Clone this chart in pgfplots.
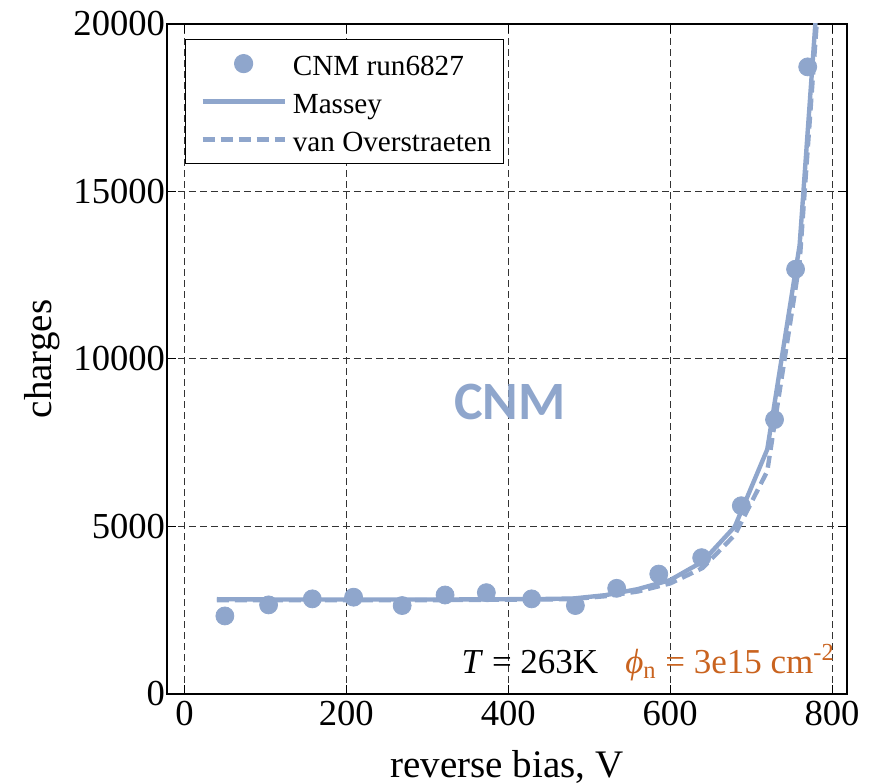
\documentclass[border=0pt]{standalone}
\usepackage{pgfplots}
\pgfplotsset{compat=1.18}
\usepackage{fontspec}
\setmainfont{Liberation Serif}
\newfontfamily\cnmfont{Carlito}
\definecolor{cblue}{RGB}{143,166,204}
\definecolor{corange}{RGB}{201,99,31}

\pgfplotstableread{
x y
50 2330
104 2660
158 2840
209 2890
269 2640
322 2955
373 3025
429 2840
483 2640
534 3155
586 3580
639 4070
688 5620
729 8190
755 12680
770 18720
}\datatab

\pgfplotstableread{
x y
40 2830
80 2825
120 2820
160 2820
200 2820
240 2820
280 2820
320 2820
360 2825
400 2830
440 2835
480 2850
520 2950
560 3130
600 3400
640 3950
680 5000
720 7300
760 13400
800 27000
}\masseytab

\pgfplotstableread{
x y
40 2800
80 2800
120 2800
160 2800
200 2800
240 2800
280 2800
320 2805
360 2810
400 2815
440 2820
480 2835
520 2920
560 3060
600 3300
640 3760
680 4750
720 6650
760 12900
800 26400
}\vantab

\begin{document}
\begin{tikzpicture}
\begin{axis}[
  scale only axis, width=340bp, height=335bp,
  xmin=-21.5, xmax=818.5, ymin=0, ymax=20000,
  xtick={0,200,400,600,800}, ytick={0,5000,10000,15000,20000},
  scaled y ticks=false, scaled x ticks=false,
  /pgf/number format/assume math mode=true,
  /pgf/number format/set thousands separator={},
  tick align=inside, major tick length=4.5bp,
  every tick/.style={black, line width=0.5bp},
  axis line style={black, line width=0.75bp},
  grid=major,
  major grid style={black!80, line width=0.5bp, dash pattern=on 3.5bp off 2bp},
  ticklabel style={font=\fontsize{18.3bp}{20bp}\selectfont},
  yticklabel style={xshift=2.5bp},
  xlabel={reverse bias, V}, ylabel={charges},
  label style={font=\fontsize{19.5bp}{22bp}\selectfont},
  xlabel style={at={(axis description cs:0.5,-0.1245)}, anchor=base},
  ylabel style={at={(axis description cs:-0.1696,0.5)}, anchor=base, rotate=0},
  legend cell align=left,
  legend style={at={(axis description cs:0.0265,0.9776)}, anchor=north west,
    draw=black, line width=0.6bp, fill=white,
    inner xsep=3bp, inner ysep=2.5bp,
    font=\fontsize{14.6bp}{16bp}\selectfont,
    nodes={inner xsep=3bp, inner ysep=2.5bp, text height=13bp, text depth=1bp},
    /tikz/every even column/.append style={column sep=1.5bp}},
]
\addplot[only marks, mark=*, mark size=4.5bp, cblue, mark options={draw=cblue, fill=cblue},
  legend image code/.code={%
    \path[draw=none] (0bp,0bp) -- (46.5bp,0bp);
    \path[draw=none] plot[mark=*, mark size=4.5bp, mark options={draw=cblue, fill=cblue}] coordinates {(26bp,0bp)};}]
  table[x=x,y=y] {\datatab};
\addlegendentry{CNM run6827}
\addplot[cblue, line width=2.2bp, no marks,
  legend image code/.code={%
    \path[draw=none] (0bp,0bp) -- (46.5bp,0bp);
    \draw[cblue, line width=2.2bp] (5.5bp,0bp) -- (46.5bp,0bp);}]
  table[x=x,y=y] {\masseytab};
\addlegendentry{Massey}
\addplot[cblue, line width=2.2bp, no marks, dash pattern=on 6bp off 3bp,
  legend image code/.code={%
    \path[draw=none] (0bp,0bp) -- (46.5bp,0bp);
    \draw[cblue, line width=2.2bp, dash pattern=on 6bp off 3bp] (5.5bp,0bp) -- (46.5bp,0bp);}]
  table[x=x,y=y] {\vantab};
\addlegendentry{van Overstraeten}
\node[text=cblue, font=\cnmfont\bfseries\fontsize{27bp}{30bp}\selectfont, anchor=center] at (axis cs:402,8720) {CNM};
\node[anchor=base east, inner sep=0pt, font=\fontsize{17.5bp}{20bp}\selectfont] at (axis cs:804,620) {\textit{T} = 263K\hspace{13.5bp}{\color{corange}\textit{ϕ}\textsubscript{n} = 3e15 cm\textsuperscript{-2}}};
\coordinate (O) at (rel axis cs:0,0);
\end{axis}
\pgfresetboundingbox
\useasboundingbox (O) ++(-83.5bp,-45bp) rectangle ++(434.5bp,392bp);
\end{tikzpicture}
\end{document}
